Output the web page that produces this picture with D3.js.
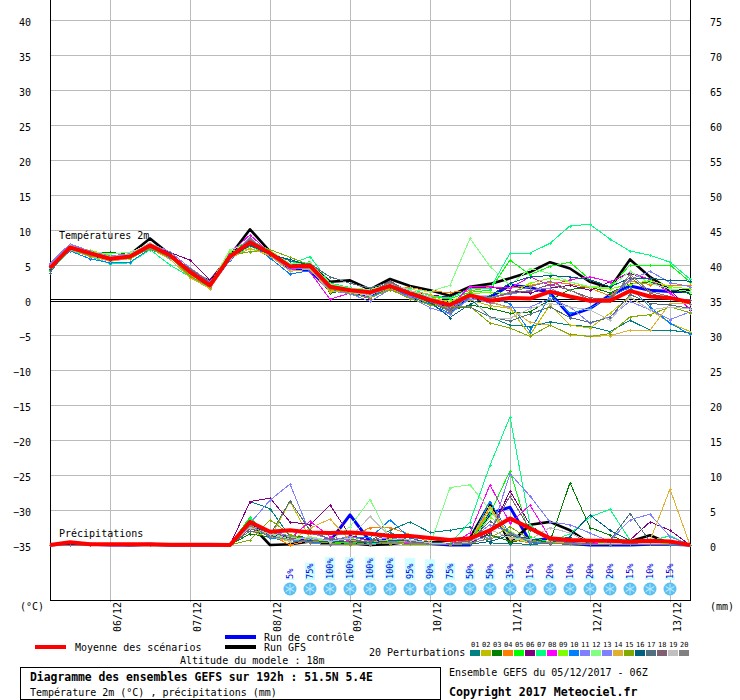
<!DOCTYPE html>
<html>
<head>
<meta charset="utf-8">
<script src="https://cdn.jsdelivr.net/npm/d3@7"></script>
<style>
  html, body { margin: 0; padding: 0; background: #fff; }
  svg { display: block; }
  text { font-family: "DejaVu Sans Mono", monospace; fill: #000; }
</style>
</head>
<body>
<svg id="chart" width="740" height="700"></svg>
<script>
// forecast hours, one point every 6h over 192h
const hours = d3.range(0, 193, 6);
const dayHours = [18, 42, 66, 90, 114, 138, 162, 186];
const dayLabels = ["06/12", "07/12", "08/12", "09/12", "10/12", "11/12", "12/12", "13/12"];
const tempTicks = [40, 35, 30, 25, 20, 15, 10, 5, 0, -5, -10, -15, -20, -25, -30, -35];
const mmTicks = [75, 70, 65, 60, 55, 50, 45, 40, 35, 30, 25, 20, 15, 10, 5, 0];

const pertColors = ["#008080", "#bfbf00", "#008000", "#ff8000", "#00ff00", "#800080", "#00ff80", "#ff00ff", "#80ff00", "#0080ff",
  "#8080ff", "#80ff80", "#8080ff", "#e0b030", "#80aa00", "#006080", "#507080", "#806070", "#c0c0c0", "#808080"];
const pertLabels = ["01", "02", "03", "04", "05", "06", "07", "08", "09", "10", "11", "12", "13", "14", "15", "16", "17", "18", "19", "20"];

// temperatures 2m, degrees C (rows of 11 values)
const tempMean = [4.6, 7.5, 6.7, 5.9, 6.2, 7.8, 6.4, 4.0, 2.1, 6.2, 8.2,
  6.7, 4.8, 4.9, 1.9, 1.4, 1.1, 2.0, 0.9, 0.0, -0.7, 0.7,
  -0.1, 0.3, 0.2, 1.2, 0.5, -0.1, -0.1, 1.3, 0.5, 0.3, -0.3];
const tempGfs = [4.6, 7.5, 6.7, 5.9, 6.5, 8.8, 6.5, 4.0, 2.7, 6.3, 10.1,
  6.9, 4.9, 5.0, 2.6, 2.8, 1.5, 3.0, 2.0, 1.4, 0.6, 1.9,
  2.3, 3.1, 4.0, 5.4, 4.5, 2.6, 1.7, 5.8, 3.3, 1.4, 1.4];
const tempControl = [4.7, 7.5, 6.5, 5.7, 6.1, 7.7, 6.3, 3.9, 2.0, 6.0, 8.3,
  6.6, 4.5, 4.2, 1.5, 1.2, 0.6, 2.0, 1.0, 0.0, -1.4, 0.4,
  0.4, 2.1, 1.8, 1.0, -2.2, -1.2, 0.7, 2.0, 1.4, 1.2, 1.2];
const temp01 = [4.5, 7.2, 6.4, 5.8, 6.0, 7.6, 6.1, 3.9, 2.0, 5.9, 8.0,
  6.6, 5.6, 5.0, 2.4, 1.2, 0.8, 1.8, 0.7, -0.1, -0.8, 0.3,
  -2.4, -3.6, -3.8, -3.1, -3.6, -3.8, -4.5, -2.9, -4.3, -4.3, -4.7];
const temp02 = [4.7, 7.5, 6.8, 6.1, 6.3, 7.7, 6.2, 3.6, 2.0, 6.6, 7.9,
  7.0, 5.0, 4.4, 1.4, 1.3, 0.5, 1.6, 0.6, -0.5, -1.2, 0.0,
  -0.8, -1.2, -5.0, -0.7, -3.6, -4.0, -1.9, 0.5, -1.4, -3.3, -4.5];
const temp03 = [4.4, 7.4, 6.8, 6.8, 6.5, 7.5, 6.3, 3.8, 1.9, 6.1, 8.4,
  6.8, 5.0, 5.0, 1.0, 1.5, 0.7, 1.9, 1.0, -0.4, -1.6, -0.7,
  -1.2, -1.9, -1.7, 0.0, 1.5, 1.9, 1.0, 2.3, 2.6, 1.5, 0.9];
const temp04 = [4.6, 7.3, 6.6, 6.0, 6.4, 7.9, 6.5, 3.5, 1.6, 6.4, 8.0,
  6.2, 4.5, 5.3, 2.2, 1.7, 1.4, 1.6, 1.8, 1.2, 1.1, 1.3,
  1.8, 1.7, 2.1, 2.6, 2.3, 1.7, 0.6, 2.7, 2.2, 2.0, 2.1];
const temp05 = [4.9, 7.7, 6.9, 6.2, 6.0, 7.4, 6.0, 4.1, 2.4, 6.9, 8.6,
  7.1, 4.7, 5.5, 2.1, 1.6, 1.3, 2.2, 1.2, 0.4, 0.2, 1.1,
  1.4, 5.7, 3.6, 4.8, 5.4, 2.9, 1.9, 5.0, 5.0, 5.0, 2.6];
const temp06 = [4.8, 7.9, 6.5, 6.0, 6.3, 7.8, 6.8, 5.7, 2.9, 6.3, 8.5,
  6.9, 5.0, 4.7, 1.7, 1.5, 1.0, 2.4, 1.3, 0.7, 0.4, 1.7,
  1.9, 1.3, 1.0, 1.7, 2.1, 1.4, 2.6, 3.8, 2.9, 1.4, -1.4];
const temp07 = [4.2, 7.1, 6.2, 5.2, 5.3, 7.2, 5.0, 3.3, 1.7, 5.8, 7.7,
  6.4, 5.1, 6.2, 2.4, 1.8, 0.9, 1.7, 1.7, 0.6, 0.3, 1.6,
  1.6, 6.7, 6.7, 8.1, 10.6, 10.8, 8.7, 7.0, 6.4, 5.4, 3.0];
const temp08 = [5.0, 7.8, 6.6, 5.7, 6.1, 8.0, 6.6, 4.4, 2.3, 6.7, 9.3,
  6.7, 4.4, 4.0, 0.1, 1.0, 0.2, 2.2, 1.1, -0.3, -0.9, 1.9,
  1.9, 1.7, 3.3, 2.1, 2.9, 3.3, 2.6, 4.0, 2.9, 1.0, -1.2];
const temp09 = [4.5, 7.6, 7.1, 6.4, 5.8, 7.6, 6.2, 3.7, 2.2, 7.0, 7.3,
  6.5, 5.2, 5.1, 1.8, 1.3, 1.2, 2.1, 0.8, 0.3, -0.2, 0.9,
  1.1, 0.9, 2.4, 3.1, 2.6, 1.8, 1.6, 2.2, 2.8, 1.9, 1.6];
const temp10 = [4.7, 7.0, 5.9, 5.3, 5.4, 7.3, 6.0, 3.9, 1.9, 5.7, 8.1,
  6.0, 3.7, 4.2, 1.6, 0.8, 0.4, 1.8, 0.5, -0.6, -1.9, 0.4,
  0.2, -0.5, -4.5, 0.7, -1.9, -1.2, 0.5, 1.8, -1.0, -3.3, -4.9];
const temp11 = [5.3, 8.0, 7.0, 6.3, 6.6, 8.1, 6.9, 4.6, 2.6, 6.2, 8.9,
  6.4, 4.6, 4.8, 1.3, 0.9, -0.2, 1.5, 0.4, -1.1, -2.0, 0.2,
  -0.4, -1.0, -1.0, 0.2, -1.0, -3.3, -2.4, -0.2, -1.4, -2.8, -1.7];
const temp12 = [4.6, 7.7, 6.9, 6.6, 6.8, 8.0, 6.5, 4.2, 2.2, 7.2, 8.0,
  7.1, 5.2, 5.4, 2.3, 1.7, 1.5, 2.3, 1.5, 1.2, 2.1, 8.8,
  4.8, 2.1, 4.5, 3.8, 2.6, 1.9, 1.8, 4.1, 2.4, 1.6, 1.2];
const temp13 = [5.1, 7.9, 6.7, 6.1, 6.2, 7.9, 6.4, 4.3, 2.4, 6.2, 8.4,
  6.3, 4.5, 4.5, 1.7, 1.1, 0.7, 2.0, 0.6, -0.2, -1.3, 0.5,
  0.5, 0.8, 1.4, 1.7, 0.4, -0.3, 0.2, 2.9, 4.1, 2.5, 1.9];
const temp14 = [4.4, 7.2, 6.2, 5.6, 5.9, 7.4, 5.8, 3.2, 1.6, 5.9, 7.4,
  6.3, 4.1, 4.4, 1.2, 1.2, 0.8, 1.7, 1.3, 0.8, -0.5, 0.4,
  -0.2, -1.2, -3.2, -3.6, -5.0, -5.2, -5.1, -4.3, -4.3, -0.5, -0.5];
const temp15 = [4.3, 7.3, 6.3, 5.9, 6.0, 7.3, 6.1, 3.4, 1.8, 6.4, 6.9,
  7.2, 6.1, 5.0, 1.6, 1.0, 0.3, 1.5, 0.2, -0.7, -1.0, -0.9,
  -3.3, -4.0, -5.2, -3.6, -4.9, -5.2, -4.8, -2.4, -2.1, -1.0, -1.8];
const temp16 = [4.5, 7.4, 6.5, 5.7, 6.2, 7.7, 6.7, 4.2, 2.1, 6.0, 7.8,
  6.5, 5.8, 4.9, 2.0, 1.4, 1.2, 1.9, 0.8, -0.3, -2.5, -0.6,
  0.6, 2.4, 3.3, 3.5, 3.3, 2.9, 1.9, 3.1, 3.1, 2.8, 2.7];
const temp17 = [3.9, 7.6, 6.6, 5.9, 6.4, 7.9, 6.6, 4.3, 2.3, 6.5, 8.6,
  6.8, 4.9, 5.2, 3.3, 2.4, 1.7, 2.6, 1.2, 0.2, -1.1, -1.0,
  -2.4, -3.0, -2.0, -1.0, -2.5, -3.2, -2.5, 0.8, -0.5, -0.7, -1.2];
const temp18 = [4.7, 7.5, 6.5, 6.0, 6.3, 8.0, 6.3, 4.5, 2.5, 6.3, 8.7,
  6.6, 4.7, 4.7, 2.0, 1.6, 0.9, 2.7, 1.1, -0.2, -1.5, 0.6,
  0.2, 1.0, 1.3, 2.2, 1.4, 0.3, 0.2, 3.3, 1.0, 0.1, 0.0];
const temp19 = [4.9, 7.8, 6.9, 6.2, 6.5, 8.2, 6.5, 4.0, 2.0, 5.8, 8.2,
  6.9, 4.8, 4.8, 2.1, 1.1, 0.6, 2.3, 1.4, 0.4, -0.8, 0.5,
  -2.6, -2.6, -1.2, -0.5, -1.0, -1.4, -2.9, 0.4, -1.4, -1.0, -1.3];
const temp20 = [4.8, 7.3, 6.4, 5.8, 6.1, 7.5, 6.2, 3.8, 2.2, 6.1, 8.8,
  6.7, 4.9, 5.1, 1.8, 1.5, 1.0, 2.5, 1.0, -0.1, -1.7, 0.7,
  0.3, 1.1, 1.9, 2.7, 1.4, 0.0, -0.2, 3.7, 1.2, 0.5, -0.6];
const tempPerts = [temp01, temp02, temp03, temp04, temp05, temp06, temp07, temp08, temp09, temp10,
  temp11, temp12, temp13, temp14, temp15, temp16, temp17, temp18, temp19, temp20];

// precipitations, mm (rows of 11 values)
const rainMean = [0, 0.4, 0.1, 0.1, 0.1, 0.1, 0.05, 0.05, 0.05, 0, 3.3,
  1.9, 2.1, 1.8, 1.7, 1.8, 1.6, 1.3, 1.3, 1.0, 0.7, 0.95,
  2.1, 3.8, 2.4, 0.95, 0.7, 0.6, 0.6, 0.5, 0.6, 0.5, 0];
const rainGfs = [0, 0.3, 0.1, 0.1, 0, 0, 0, 0, 0, 0, 3.0,
  0.0, 0.1, 0.5, 0.2, 0.3, 0.0, 0.1, 0.5, 0.3, 0.7, 1.0,
  6.0, 0.2, 2.9, 3.3, 2.1, 0.2, 0.1, 0.5, 1.4, 0.2, 0];
const rainControl = [0, 0.2, 0.1, 0, 0, 0.1, 0, 0, 0, 0, 3.0,
  1.7, 0.9, 0.7, 0.5, 4.3, 0.5, 0.8, 0.4, 0.2, 0, 0,
  4.5, 5.4, 0.5, 1.0, 0.2, 0, 0, 0, 0.1, 0.1, 0];
const rain01 = [0, 0, 0, 0, 0, 0, 0, 0, 0, 0, 6.2,
  5.2, 1.2, 0.8, 0.5, 0.4, 0.6, 2.1, 3.3, 1.8, 2.1, 2.6,
  0.3, 0.2, 0.1, 0.2, 0.3, 0.2, 0.3, 0.2, 0.1, 0.1, 0];
const rain02 = [0, 0, 0, 0, 0, 0, 0, 0, 0, 0, 2.0,
  1.0, 6.2, 1.0, 0.4, 1.4, 0.5, 0.3, 0.2, 0.1, 0, 0.2,
  5.0, 1.4, 0.6, 0.2, 0.1, 0.2, 0.2, 0.1, 0.1, 0.1, 0];
const rain03 = [0, 0, 0, 0, 0, 0, 0, 0, 0, 0, 1.6,
  1.1, 1.4, 1.0, 0.6, 0.2, 0.5, 0.3, 0.4, 0.2, 0.1, 0.3,
  1.5, 0.5, 0.7, 0.5, 8.9, 2.5, 1.4, 0.2, 0.1, 0.1, 0];
const rain04 = [0, 0, 0, 0, 0, 0, 0, 0, 0, 0, 2.6,
  1.5, 0, 0.7, 0.8, 0.9, 2.5, 2.5, 1.5, 0.4, 0.2, 0.3,
  5.4, 0.8, 0.3, 0.2, 0.1, 0.1, 0.2, 0.1, 0.2, 0.1, 0];
const rain05 = [0, 0, 0, 0, 0, 0, 0, 0, 0, 0, 4.0,
  1.0, 0.8, 0.5, 0.4, 0.3, 0.5, 0.4, 0.6, 0.2, 0.1, 0.5,
  4.5, 10.6, 1.2, 0.4, 0.2, 0.3, 0.2, 0.1, 0.2, 0.1, 0];
const rain06 = [0, 0, 0, 0, 0, 0, 0, 0, 0, 0, 6.2,
  6.7, 3.3, 2.9, 5.7, 1.4, 0.6, 0.5, 0.3, 0.2, 0.1, 0.3,
  1.7, 7.7, 2.9, 0.6, 0.3, 0.2, 0.1, 0.7, 3.3, 2.1, 0];
const rain07 = [0, 0, 0, 0, 0, 0, 0, 0, 0, 0, 3.8,
  1.4, 0.9, 0.3, 0.5, 0.8, 0.2, 0.4, 0.3, 0.1, 0.2, 3.3,
  11.4, 18.3, 2.9, 0.5, 1.6, 4.0, 5.1, 0.7, 0.6, 1.3, 0];
const rain08 = [0, 0, 0, 0, 0, 0, 0, 0, 0, 0, 2.4,
  1.3, 0.9, 3.4, 1.2, 0.6, 0.3, 0.5, 0.2, 0.1, 0.1, 1.7,
  8.6, 3.1, 5.7, 1.0, 0.3, 0.2, 0.1, 0.1, 0.2, 0.1, 0];
const rain09 = [0, 0, 0, 0, 0, 0, 0, 0, 0, 0, 2.0,
  1.7, 1.1, 0.8, 0.4, 1.0, 0.3, 0.7, 0.5, 0.2, 0.1, 0.4,
  4.0, 2.0, 0.4, 0.3, 0.2, 0.1, 0.1, 0.1, 0.1, 0.2, 0];
const rain10 = [0, 0, 0, 0, 0, 0, 0, 0, 0, 0, 3.0,
  1.0, 0.6, 0.4, 0.3, 1.1, 1.0, 3.6, 1.0, 0.3, 0.1, 0.5,
  6.2, 1.5, 0.3, 0.2, 0.1, 0.1, 0, 0.1, 0.1, 0, 0];
const rain11 = [0, 0, 0, 0, 0, 0, 0, 0, 0, 0, 3.1,
  6.4, 8.7, 1.7, 0.9, 0.7, 0.4, 0.3, 0.5, 0.2, 0.1, 0.6,
  1.2, 10.2, 7.0, 3.3, 2.9, 1.7, 0.5, 0.2, 0.1, 0.1, 0];
const rain12 = [0, 0, 0, 0, 0, 0, 0, 0, 0, 0, 3.4,
  1.8, 0.8, 1.2, 0.6, 2.6, 6.5, 0.9, 0.5, 0, 8.2, 8.6,
  5.0, 1.0, 0.4, 0.2, 0.2, 0.1, 0.2, 0.1, 0.1, 0.1, 0];
const rain13 = [0, 0, 0, 0, 0, 0, 0, 0, 0, 0, 2.7,
  2.0, 1.3, 0.9, 0.7, 1.2, 0.5, 1.1, 0.4, 0.3, 0.2, 0.8,
  2.9, 1.8, 0.6, 0.3, 0.2, 0.3, 0.6, 3.6, 4.4, 1.2, 0];
const rain14 = [0, 0, 0, 0, 0, 0, 0, 0, 0, 0, 2.9,
  1.2, 0.5, 2.4, 3.7, 0.7, 0.4, 0.8, 0.3, 0.2, 0.1, 0.7,
  5.5, 1.2, 0.5, 0.5, 0.2, 0.1, 0.1, 0.2, 0.6, 8.0, 0];
const rain15 = [0, 0, 0, 0, 0, 0, 0, 0, 0, 0, 0.7,
  3.6, 1.5, 0.6, 0.3, 0, 0.4, 0.2, 0.1, 0.1, 0, 0.2,
  1.0, 2.6, 0.8, 0.2, 0.1, 0.1, 0.1, 0.1, 0.1, 0.1, 0];
const rain16 = [0, 0, 0, 0, 0, 0, 0, 0, 0, 0, 3.2,
  1.4, 0.7, 0.7, 0.4, 0.5, 0.3, 0.6, 0.7, 0.4, 0.2, 0.1,
  0.5, 1.4, 0.9, 0.3, 1.2, 4.3, 2.1, 0.6, 0.1, 0.1, 0];
const rain17 = [0, 0, 0, 0, 0, 0, 0, 0, 0, 0, 2.0,
  1.4, 6.3, 2.1, 0.8, 0.9, 0.3, 1.8, 0.6, 0.2, 0.1, 0.5,
  3.4, 1.7, 0.4, 0.2, 0.1, 0.2, 0.7, 4.5, 0.5, 0.3, 0];
const rain18 = [0, 0, 0, 0, 0, 0, 0, 0, 0, 0, 2.3,
  1.9, 1.0, 0.5, 1.0, 0.4, 0.6, 1.5, 0.4, 0.2, 0.2, 0.6,
  1.9, 7.0, 2.2, 0.7, 0.3, 0.1, 0.1, 0.2, 0.1, 0.1, 0];
const rain19 = [0, 0, 0, 0, 0, 0, 0, 0, 0, 0, 2.5,
  1.6, 0.6, 1.1, 0.5, 1.0, 4.1, 1.2, 0.7, 0.3, 0.1, 0.4,
  2.2, 1.0, 0.8, 2.5, 1.7, 0.5, 0.2, 0.1, 0.2, 0.1, 0];
const rain20 = [0, 0, 0, 0, 0, 0, 0, 0, 0, 0, 2.8,
  1.2, 0.8, 0.3, 0, 0.2, 0, 0.5, 0.3, 0.1, 0.1, 0.3,
  0.9, 1.6, 0.5, 0.3, 0.2, 0.1, 0.1, 0.1, 0.1, 0.1, 0];
const rainPerts = [rain01, rain02, rain03, rain04, rain05, rain06, rain07, rain08, rain09, rain10,
  rain11, rain12, rain13, rain14, rain15, rain16, rain17, rain18, rain19, rain20];

// probability of snow at each step from +72h
const snowHours = d3.range(72, 187, 6);
const snowPct = [5, 75, 100, 100, 100, 100, 95, 90, 75, 50, 50, 35, 15, 20, 10, 20, 20, 15, 10, 15];

const svg = d3.select("#chart");
const x = d3.scaleLinear().domain([0, 192]).range([50, 690]);
const yTemp = d3.scaleLinear().domain([-35, 40]).range([545, 20]);
const yRain = d3.scaleLinear().domain([0, 75]).range([545, 20]);
const ySnow = d3.scaleLinear().domain([0, 100]).range([580, 557]);

// horizontal grid + left labels
const gridLeft = svg.append("g").attr("transform", "translate(50,0)")
  .call(d3.axisLeft(yTemp).tickValues(tempTicks).tickSize(-640).tickPadding(19).tickFormat(d3.format("d")));
gridLeft.select(".domain").remove();
gridLeft.selectAll("line").attr("stroke", "#bbb").attr("shape-rendering", "crispEdges");
gridLeft.selectAll("text").attr("font-size", 10).attr("dy", "0.55em").style("font-family", "'DejaVu Sans Mono', monospace");

// right labels only
const rightAxis = svg.append("g").attr("transform", "translate(690,0)")
  .call(d3.axisRight(yRain).tickValues(mmTicks).tickSize(0).tickPadding(20).tickFormat(d3.format("d")));
rightAxis.select(".domain").remove();
rightAxis.selectAll("text").attr("font-size", 10).attr("dy", "0.55em").style("font-family", "'DejaVu Sans Mono', monospace");

// vertical grid + rotated dates
const gridBottom = svg.append("g").attr("transform", "translate(0,602)")
  .call(d3.axisBottom(x).tickValues(dayHours).tickSize(-602).tickFormat((d, i) => dayLabels[i]));
gridBottom.select(".domain").remove();
gridBottom.selectAll("line").attr("stroke", "#bbb").attr("shape-rendering", "crispEdges");
gridBottom.selectAll("text")
  .attr("font-size", 10)
  .style("font-family", "'DejaVu Sans Mono', monospace")
  .attr("text-anchor", "end")
  .attr("transform", "translate(10,-8) rotate(-90)")
  .attr("x", -8).attr("y", 0).attr("dy", 0);

// frame
const frame = svg.append("g").attr("stroke", "#000").attr("shape-rendering", "crispEdges");
frame.append("line").attr("x1", 50.5).attr("x2", 50.5).attr("y1", 0).attr("y2", 600);
frame.append("line").attr("x1", 690.5).attr("x2", 690.5).attr("y1", 0).attr("y2", 600);
frame.append("line").attr("x1", 50).attr("x2", 691).attr("y1", 600.5).attr("y2", 600.5);
frame.append("line").attr("x1", 50).attr("x2", 691).attr("y1", yTemp(0) - 0.5).attr("y2", yTemp(0) - 0.5);
frame.append("line").attr("x1", 50).attr("x2", 691).attr("y1", yTemp(0) + 1.5).attr("y2", yTemp(0) + 1.5);
svg.append("line").attr("x1", 51).attr("x2", 690).attr("y1", yTemp(0) + 0.5).attr("y2", yTemp(0) + 0.5)
  .attr("stroke", "#fff").attr("shape-rendering", "crispEdges");

// snow bars, text and flakes
const snow = svg.append("g").selectAll("g").data(snowPct).join("g")
  .attr("transform", (d, i) => `translate(${x(snowHours[i])},0)`);
snow.append("rect").attr("x", -5).attr("width", 10)
  .attr("y", d => ySnow(d)).attr("height", d => ySnow(0) - ySnow(d))
  .attr("fill", "#ccffff");
snow.append("text")
  .attr("transform", "translate(3,579) rotate(-90)")
  .attr("font-size", 8.6)
  .style("fill", "#0000e0")
  .text(d => d + "%");
snow.append("circle").attr("cy", 589).attr("r", 6.5).attr("fill", "#5cc0f0");
[0, 60, 120].forEach(a => {
  snow.append("line")
    .attr("x1", 0).attr("x2", 0).attr("y1", -5).attr("y2", 5)
    .attr("transform", `translate(0,589) rotate(${a})`)
    .attr("stroke", "#b8e8ff").attr("stroke-width", 1);
});

// one thin series with small nodes
function drawThin(values, color, y) {
  const line = d3.line().x((d, i) => x(hours[i])).y(d => y(d));
  svg.append("path").datum(values)
    .attr("d", line)
    .attr("fill", "none")
    .attr("stroke", color)
    .attr("stroke-width", 1)
    .attr("shape-rendering", "crispEdges");
  svg.append("g").selectAll("path").data(values).join("path")
    .attr("d", "M-1.5,0H1.5M0,-1.5V1.5")
    .attr("transform", (d, i) => `translate(${x(hours[i]) + 0.5},${y(d) + 0.5})`)
    .attr("stroke", color)
    .attr("shape-rendering", "crispEdges");
}
function drawThick(values, color, width, y) {
  const line = d3.line().x((d, i) => x(hours[i])).y(d => y(d));
  svg.append("path").datum(values)
    .attr("d", line)
    .attr("fill", "none")
    .attr("stroke", color)
    .attr("stroke-width", width)
    .attr("stroke-linejoin", "round");
}

// thick runs sit under the perturbations, only the mean stays on top
drawThick(tempControl, "#0000ff", 3, yTemp);
drawThick(rainControl, "#0000ff", 3, yRain);
drawThick(tempGfs, "#000", 2.6, yTemp);
drawThick(rainGfs, "#000", 2.6, yRain);
tempPerts.forEach((v, i) => drawThin(v, pertColors[i], yTemp));
rainPerts.forEach((v, i) => drawThin(v, pertColors[i], yRain));
drawThick(tempMean, "#ff0000", 4, yTemp);
drawThick(rainMean, "#ff0000", 4, yRain);

// labels
function label(tx, ty, str, size, bold) {
  svg.append("text").attr("x", tx).attr("y", ty).attr("font-size", size || 10)
    .attr("font-weight", bold ? "bold" : "normal").text(str);
}
label(59, 239, "Températures 2m");
label(59, 537, "Précipitations");
label(20, 610, "(°C)");
label(710, 610, "(mm)");
label(75, 651, "Moyenne des scénarios");
label(264, 641, "Run de contrôle");
label(264, 651, "Run GFS");
label(180, 664, "Altitude du modele : 18m");
label(369, 656, "20 Perturbations");
label(449, 676, "Ensemble GEFS du 05/12/2017 - 06Z");
label(449, 696, "Copyright 2017 Meteociel.fr", 11.6, true);

// legend lines
const legendLines = [[35, 66, 647, "#ff0000"], [225, 256, 637, "#0000ff"], [225, 256, 647, "#000"]];
svg.append("g").selectAll("line").data(legendLines).join("line")
  .attr("x1", d => d[0]).attr("x2", d => d[1]).attr("y1", d => d[2]).attr("y2", d => d[2])
  .attr("stroke", d => d[3]).attr("stroke-width", 4).attr("shape-rendering", "crispEdges");

// perturbation legend
const swatch = d3.scaleBand().domain(pertLabels).range([470, 690]);
const leg = svg.append("g").selectAll("g").data(pertLabels).join("g");
leg.append("rect").attr("x", d => swatch(d)).attr("y", 650).attr("width", swatch.bandwidth() - 1).attr("height", 6)
  .attr("fill", (d, i) => pertColors[i]);
leg.append("text").attr("x", d => swatch(d) + 1).attr("y", 647).attr("font-size", 7).text(d => d);

// title box
svg.append("rect").attr("x", 20.5).attr("y", 667.5).attr("width", 420).attr("height", 32)
  .attr("fill", "none").attr("stroke", "#000").attr("shape-rendering", "crispEdges");
label(30, 681, "Diagramme des ensembles GEFS sur 192h : 51.5N 5.4E", 11.4, true);
label(30, 696, "Température 2m (°C) , précipitations (mm)");
</script>
</body>
</html>
